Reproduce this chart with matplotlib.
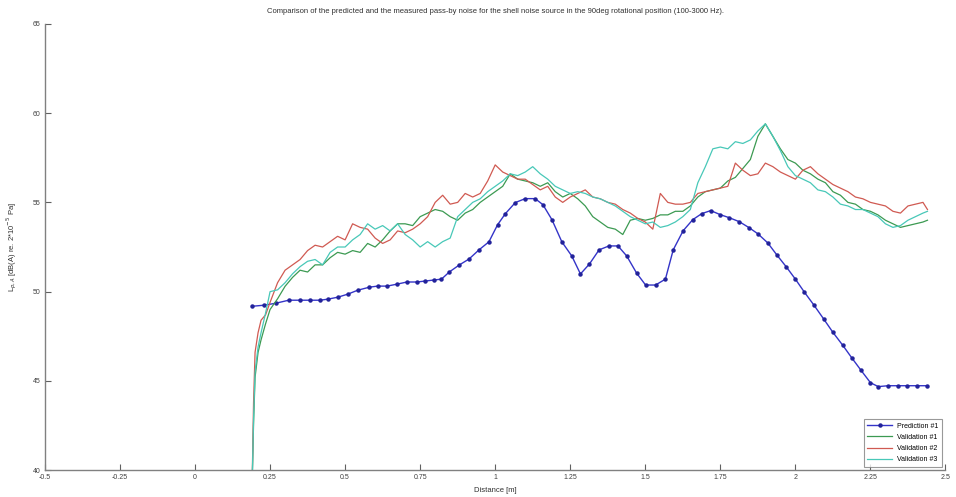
import matplotlib
matplotlib.use("Agg")
import matplotlib.pyplot as plt

# distance [m] and levels [dB(A)]
pred_dist = [0.190, 0.230, 0.269, 0.312, 0.351, 0.384, 0.417, 0.443, 0.476, 0.509,
             0.542, 0.581, 0.608, 0.640, 0.673, 0.706, 0.739, 0.765, 0.795, 0.821,
             0.847, 0.880, 0.913, 0.946, 0.979, 1.008, 1.034, 1.067, 1.100, 1.133,
             1.159, 1.189, 1.222, 1.255, 1.284, 1.314, 1.346, 1.379, 1.409, 1.438,
             1.471, 1.501, 1.534, 1.567, 1.593, 1.626, 1.658, 1.688, 1.718, 1.750,
             1.780, 1.813, 1.846, 1.875, 1.908, 1.938, 1.970, 2.000, 2.030, 2.062,
             2.095, 2.125, 2.158, 2.187, 2.217, 2.250, 2.276, 2.309, 2.342, 2.371,
             2.404, 2.437]
pred_level = [49.18, 49.24, 49.35, 49.52, 49.52, 49.52, 49.52, 49.58, 49.69, 49.86,
              50.08, 50.25, 50.31, 50.31, 50.42, 50.54, 50.54, 50.59, 50.65, 50.70,
              51.10, 51.49, 51.83, 52.34, 52.79, 53.75, 54.37, 54.99, 55.21, 55.21,
              54.87, 54.03, 52.79, 52.00, 50.99, 51.55, 52.34, 52.56, 52.56, 52.00,
              51.04, 50.37, 50.37, 50.70, 52.34, 53.41, 54.03, 54.37, 54.54, 54.31,
              54.14, 53.92, 53.58, 53.24, 52.73, 52.06, 51.38, 50.70, 49.97, 49.24,
              48.45, 47.72, 46.99, 46.31, 45.63, 44.90, 44.68, 44.73, 44.73, 44.73,
              44.73, 44.73]

meas_dist = [0.19, 0.195, 0.2, 0.21, 0.22, 0.235, 0.25, 0.275, 0.3, 0.325,
             0.35, 0.375, 0.4, 0.425, 0.45, 0.475, 0.5, 0.525, 0.55, 0.575,
             0.6, 0.625, 0.65, 0.675, 0.7, 0.725, 0.75, 0.775, 0.8, 0.825,
             0.85, 0.875, 0.9, 0.925, 0.95, 0.975, 1.0, 1.025, 1.05, 1.075,
             1.1, 1.125, 1.15, 1.175, 1.2, 1.225, 1.25, 1.275, 1.3, 1.325,
             1.35, 1.375, 1.4, 1.425, 1.45, 1.475, 1.5, 1.525, 1.55, 1.575,
             1.6, 1.625, 1.65, 1.675, 1.7, 1.725, 1.75, 1.775, 1.8, 1.825,
             1.85, 1.875, 1.9, 1.925, 1.95, 1.975, 2.0, 2.025, 2.05, 2.075,
             2.1, 2.125, 2.15, 2.175, 2.2, 2.225, 2.25, 2.275, 2.3, 2.325,
             2.35, 2.375, 2.4, 2.425, 2.44]

val1 = [39.0, 42.6, 45.2, 46.6, 47.3, 48.2, 49.0, 49.6, 50.3, 50.8,
        51.2, 51.1, 51.5, 51.5, 51.9, 52.2, 52.1, 52.3, 52.2, 52.7,
        52.5, 52.9, 53.4, 53.8, 53.8, 53.7, 54.2, 54.4, 54.6, 54.5,
        54.2, 54.0, 54.4, 54.6, 55.0, 55.3, 55.6, 55.9, 56.6, 56.3,
        56.2, 56.1, 55.9, 56.1, 55.6, 55.3, 55.5, 55.2, 54.8, 54.2,
        53.9, 53.6, 53.5, 53.2, 54.0, 54.1, 54.0, 54.1, 54.3, 54.3,
        54.5, 54.5, 54.8, 55.3, 55.6, 55.7, 55.8, 56.2, 56.4, 56.9,
        57.4, 58.7, 59.4, 58.7, 58.0, 57.4, 57.2, 56.8, 56.6, 56.3,
        56.1, 55.6, 55.4, 55.0, 54.9, 54.6, 54.5, 54.3, 54.0, 53.8,
        53.6, 53.7, 53.8, 53.9, 54.0]

val2 = [39.0, 43.8, 46.6, 47.7, 48.4, 48.7, 49.4, 50.5, 51.2, 51.5,
        51.8, 52.3, 52.6, 52.5, 52.8, 53.1, 52.9, 53.8, 53.6, 53.5,
        53.0, 52.7, 52.9, 53.4, 53.3, 53.5, 53.8, 54.2, 55.0, 55.4,
        54.9, 55.0, 55.5, 55.3, 55.5, 56.2, 57.1, 56.7, 56.5, 56.3,
        56.3, 56.0, 55.7, 55.9, 55.3, 55.0, 55.3, 55.5, 55.7, 55.3,
        55.2, 55.0, 54.9, 54.6, 54.4, 54.1, 53.9, 53.5, 55.5, 55.0,
        54.9, 54.9, 55.0, 55.5, 55.6, 55.7, 55.8, 55.9, 57.2, 56.8,
        56.5, 56.6, 57.2, 57.0, 56.7, 56.5, 56.3, 56.8, 57.0, 56.6,
        56.3, 56.0, 55.8, 55.6, 55.3, 55.2, 55.0, 54.9, 54.8, 54.5,
        54.4, 54.8, 54.9, 55.0, 54.6]

val3 = [39.0, 42.9, 45.5, 46.9, 47.7, 48.8, 50.0, 50.1, 50.5, 51.0,
        51.4, 51.7, 51.8, 51.5, 52.2, 52.5, 52.5, 52.9, 53.2, 53.8,
        53.5, 53.7, 53.4, 53.8, 53.2, 52.9, 52.5, 52.8, 52.5, 52.8,
        53.0, 54.2, 54.6, 55.0, 55.2, 55.6, 55.9, 56.2, 56.6, 56.5,
        56.7, 57.0, 56.6, 56.3, 55.9, 55.7, 55.5, 55.6, 55.5, 55.3,
        55.2, 55.0, 54.8, 54.5, 54.2, 54.0, 53.8, 53.9, 53.6, 53.7,
        53.9, 54.2, 54.6, 56.1, 57.0, 58.0, 58.1, 58.0, 58.4, 58.3,
        58.5, 59.0, 59.4, 58.7, 57.9, 57.0, 56.5, 56.3, 56.1, 55.7,
        55.6, 55.3, 54.9, 54.8, 54.6, 54.6, 54.4, 54.2, 53.8, 53.6,
        53.7, 54.0, 54.2, 54.4, 54.5]

x_ticks = [-0.5, -0.25, 0, 0.25, 0.5, 0.75, 1, 1.25, 1.5, 1.75, 2, 2.25, 2.5]
x_labels = ["-0.5", "-0.25", "0", "0.25", "0.5", "0.75", "1", "1.25", "1.5", "1.75", "2", "2.25", "2.5"]
y_ticks = [40, 45, 50, 55, 60, 65]

plt.rcParams["font.family"] = ["Liberation Sans", "DejaVu Sans"]

fig = plt.figure(figsize=(9.56, 4.97), dpi=100)
ax = fig.add_axes([0.047, 0.054, 0.942, 0.898])

ax.plot(pred_dist, pred_level, color="#3434c8", lw=1.0, marker="o", ms=2.2,
        mfc="#22229a", mec="#22229a", label="Prediction #1")
ax.plot(meas_dist, val1, color="#3c9a52", lw=0.9, label="Validation #1")
ax.plot(meas_dist, val2, color="#d05a52", lw=0.9, label="Validation #2")
ax.plot(meas_dist, val3, color="#48c8b8", lw=0.9, label="Validation #3")

ax.set_xlim(-0.5, 2.5)
ax.set_ylim(40, 65)
ax.set_xticks(x_ticks)
ax.set_xticklabels(x_labels)
ax.set_yticks(y_ticks)
ax.tick_params(direction="in", length=4, width=0.8, colors="#606060",
               labelsize=5, labelcolor="#404040", pad=3)
for side in ("top", "right"):
    ax.spines[side].set_visible(False)
for side in ("left", "bottom"):
    ax.spines[side].set_color("#808080")
    ax.spines[side].set_linewidth(1.0)

ax.set_title("Comparison of the predicted and the measured pass-by noise for the shell noise source "
             "in the 90deg rotational position (100-3000 Hz).", fontsize=5.5, color="#303030", pad=8)
ax.set_xlabel("Distance [m]", fontsize=5.5, color="#303030", labelpad=4)
ax.set_ylabel("L$_{p,A}$ [dB(A) re. 2*10$^{-5}$ Pa]", fontsize=5.5, color="#303030", labelpad=10)

leg = ax.legend(loc="lower right", fontsize=5, frameon=True, fancybox=False,
                edgecolor="#808080", borderpad=0.5, handlelength=3.5, labelspacing=0.6)
leg.get_frame().set_linewidth(0.8)

fig.savefig("out.png", dpi=100)
